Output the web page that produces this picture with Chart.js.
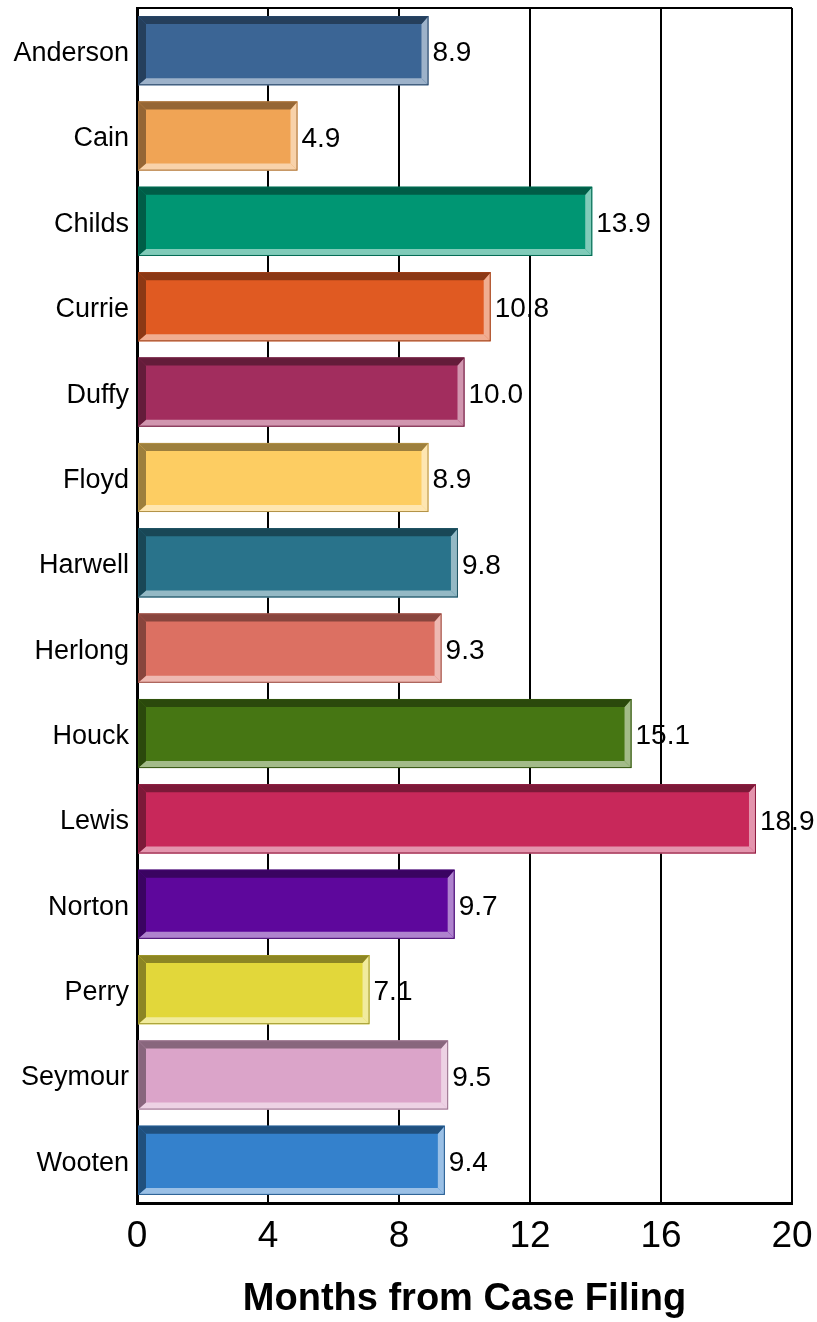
<!DOCTYPE html>
<html>
<head>
<meta charset="utf-8">
<script src="https://cdn.jsdelivr.net/npm/chart.js@4.4.1/dist/chart.umd.min.js"></script>
<style>
  html, body { margin: 0; padding: 0; background: #fff; }
  #wrap { width: 817px; height: 1322px; }
</style>
</head>
<body>
<div id="wrap"><canvas id="myChart"></canvas></div>
<script>
const judges = ['Anderson', 'Cain', 'Childs', 'Currie', 'Duffy', 'Floyd', 'Harwell',
  'Herlong', 'Houck', 'Lewis', 'Norton', 'Perry', 'Seymour', 'Wooten'];
const months = [8.9, 4.9, 13.9, 10.8, 10.0, 8.9, 9.8, 9.3, 15.1, 18.9, 9.7, 7.1, 9.5, 9.4];
const barColors = ['#3B6595', '#F0A455', '#009673', '#E05A22', '#A22D5E', '#FDCD62', '#29738B',
  '#DC7062', '#467613', '#C8285A', '#5E079C', '#E2D73A', '#DBA4C9', '#3481CC'];
const xTicks = [0, 4, 8, 12, 16, 20];

const FONT = '"Liberation Sans", Arial, sans-serif';

function shade(hex, f) {
  const n = parseInt(hex.slice(1), 16);
  let r = n >> 16, g = (n >> 8) & 255, b = n & 255;
  if (f < 0) { r *= 1 + f; g *= 1 + f; b *= 1 + f; }
  else { r += (255 - r) * f; g += (255 - g) * f; b += (255 - b) * f; }
  return 'rgb(' + Math.round(r) + ',' + Math.round(g) + ',' + Math.round(b) + ')';
}

// bevel edges + value labels, drawn on top of the library's bars
const bevelPlugin = {
  id: 'bevel',
  afterDatasetsDraw(chart) {
    const ctx = chart.ctx;
    const meta = chart.getDatasetMeta(0);
    meta.data.forEach((bar, i) => {
      const x0 = bar.base, x1 = bar.x;
      const y0 = bar.y - bar.height / 2, y1 = bar.y + bar.height / 2;
      const d = 8, l = 7;
      const col = barColors[i];
      const poly = (pts, fill) => {
        ctx.beginPath();
        ctx.moveTo(pts[0][0], pts[0][1]);
        pts.slice(1).forEach(p => ctx.lineTo(p[0], p[1]));
        ctx.closePath();
        ctx.fillStyle = fill;
        ctx.fill();
      };
      ctx.save();
      // light bottom and right
      poly([[x0, y1], [x0 + d, y1 - l], [x1 - l, y1 - l], [x1, y1]], shade(col, 0.5));
      poly([[x1, y0], [x1, y1], [x1 - l, y1 - l], [x1 - l, y0 + d]], shade(col, 0.5));
      // dark top and left
      poly([[x0, y0], [x1, y0], [x1 - l, y0 + d], [x0 + d, y0 + d]], shade(col, -0.38));
      poly([[x0, y0], [x0 + d, y0 + d], [x0 + d, y1 - l], [x0, y1]], shade(col, -0.38));
      ctx.strokeStyle = shade(col, -0.3);
      ctx.lineWidth = 1;
      ctx.strokeRect(x0 + 0.5, y0 + 0.5, x1 - x0 - 1, y1 - y0 - 1);
      // value label
      ctx.fillStyle = '#000';
      ctx.font = '28px ' + FONT;
      ctx.textAlign = 'left';
      ctx.textBaseline = 'middle';
      ctx.fillText(months[i].toFixed(1), x1 + 4, bar.y + 3);
      ctx.restore();
    });
  },
  afterDraw(chart) {
    const { ctx, chartArea: a } = chart;
    ctx.save();
    ctx.strokeStyle = '#000';
    ctx.lineWidth = 2;
    ctx.beginPath();
    ctx.moveTo(a.left, a.top);
    ctx.lineTo(a.right, a.top);
    ctx.stroke();
    ctx.restore();
  }
};

new Chart(document.getElementById('myChart'), {
  type: 'bar',
  data: {
    labels: judges,
    datasets: [{
      data: months,
      backgroundColor: barColors,
      borderWidth: 0,
      categoryPercentage: 1,
      barPercentage: 0.81
    }]
  },
  options: {
    indexAxis: 'y',
    responsive: true,
    maintainAspectRatio: false,
    animation: false,
    layout: { padding: { top: 8, right: 25, left: 0, bottom: 0 } },
    plugins: { legend: { display: false }, tooltip: { enabled: false } },
    scales: {
      x: {
        min: 0,
        max: 20,
        afterBuildTicks: s => { s.ticks = xTicks.map(v => ({ value: v })); },
        afterFit: s => { s.height = 1322 - 1203; s.paddingLeft = 0; s.paddingRight = 0; },
        grid: { color: '#000', lineWidth: 2, drawTicks: false },
        border: { color: '#000', width: 3 },
        ticks: { color: '#000', padding: 12, font: { family: FONT, size: 37 }, maxRotation: 0 },
        title: {
          display: true,
          text: 'Months from Case Filing',
          color: '#000',
          font: { family: FONT, size: 38, weight: 'bold' },
          padding: { top: 18, bottom: 0 }
        }
      },
      y: {
        afterFit: s => { s.width = 137; s.paddingTop = 0; s.paddingBottom = 0; },
        grid: { display: false, drawTicks: false },
        border: { color: '#000', width: 3 },
        ticks: { color: '#000', padding: 8, labelOffset: 3, font: { family: FONT, size: 27 } }
      }
    }
  },
  plugins: [bevelPlugin]
});
</script>
</body>
</html>
